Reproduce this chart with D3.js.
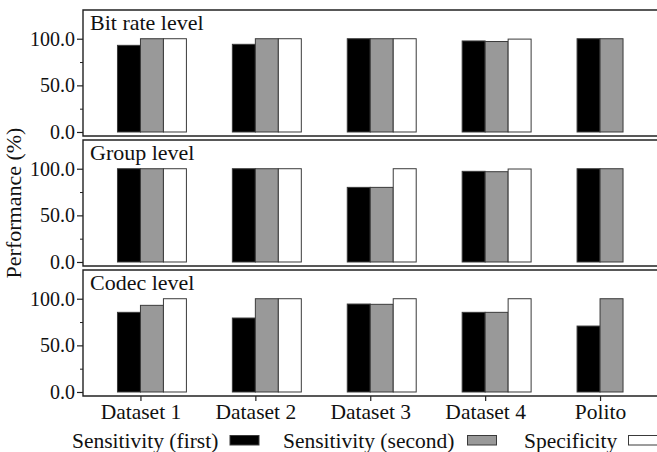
<!DOCTYPE html>
<html>
<head>
<meta charset="utf-8">
<script src="https://cdn.jsdelivr.net/npm/d3@7"></script>
<style>
  html, body { margin: 0; padding: 0; background: #fff; }
  svg { display: block; font-family: "Liberation Serif", "Times New Roman", serif; }
</style>
</head>
<body>
<svg id="chart" width="657" height="452"></svg>
<script>
// ---- data ----
const categories = ["Dataset 1", "Dataset 2", "Dataset 3", "Dataset 4", "Polito"];
const seriesNames = ["Sensitivity (first)", "Sensitivity (second)", "Specificity"];
const panelTitles = ["Bit rate level", "Group level", "Codec level"];

const bitrateSensFirst  = [92.9, 94.0, 100, 97.6, 100];
const bitrateSensSecond = [100, 100, 100, 97.0, 100];
const bitrateSpec       = [100, 100, 100, 99.6, null];

const groupSensFirst  = [100, 100, 80.0, 97.2, 100];
const groupSensSecond = [100, 100, 80.0, 96.8, 100];
const groupSpec       = [100, 100, 100, 99.7, null];

const codecSensFirst  = [85.4, 79.3, 94.3, 85.4, 70.7];
const codecSensSecond = [92.9, 100, 94.0, 85.4, 100];
const codecSpec       = [100, 100, 100, 100, null];

const yTickValues = [0, 50, 100];
const yMinorTicks = [25, 75];

// ---- layout ----
const svg = d3.select("#chart");
const left = 83, right = 657.5;
const panelTops = [10, 140, 270];
const panelH = 126;
const colors = ["#000000", "#999999", "#ffffff"];
const panels = [
  [bitrateSensFirst, bitrateSensSecond, bitrateSpec],
  [groupSensFirst, groupSensSecond, groupSpec],
  [codecSensFirst, codecSensSecond, codecSpec]
];
const barW = 0.2;
const offsets = [-0.2, 0, 0.2];

const x = d3.scaleLinear().domain([-0.5, categories.length - 0.5]).range([left, right]);

panels.forEach((series, p) => {
  const y0 = panelTops[p];
  const y = d3.scaleLinear().domain([-4.3, 130.8]).range([y0 + panelH, y0]);
  const g = svg.append("g");

  // bars
  series.forEach((vals, s) => {
    g.selectAll(null)
      .data(vals.map((v, i) => ({ v, i })).filter(d => d.v !== null))
      .join("rect")
      .attr("x", d => x(d.i + offsets[s]))
      .attr("width", d => x(d.i + offsets[s] + barW) - x(d.i + offsets[s]))
      .attr("y", d => y(d.v))
      .attr("height", d => y(0) - y(d.v))
      .attr("fill", colors[s])
      .attr("stroke", "#3a3a3a")
      .attr("stroke-width", 1);
  });

  // frame (left, top, bottom)
  g.append("path")
    .attr("d", `M${right},${y0}H${left}V${y0 + panelH}H${right}`)
    .attr("fill", "none")
    .attr("stroke", "#222")
    .attr("stroke-width", 1.4);

  // y axis
  const ya = d3.axisLeft(y).tickValues(yTickValues).tickSize(6).tickPadding(2)
    .tickFormat(d3.format(".1f"));
  const yg = g.append("g").attr("transform", `translate(${left},0)`).call(ya);
  yg.select(".domain").remove();
  yg.selectAll("line").attr("stroke", "#222").attr("stroke-width", 1.2);
  yg.selectAll("text").attr("font-size", 20).attr("font-family", "Liberation Serif").attr("fill", "#111");

  const ym = d3.axisLeft(y).tickValues(yMinorTicks).tickSize(3).tickFormat("");
  const ymg = g.append("g").attr("transform", `translate(${left},0)`).call(ym);
  ymg.select(".domain").remove();
  ymg.selectAll("line").attr("stroke", "#222").attr("stroke-width", 1);

  // title
  g.append("text")
    .attr("x", left + 7)
    .attr("y", y0 + 20)
    .attr("font-size", 22)
    .attr("fill", "#111")
    .text(panelTitles[p]);

  // x axis only for the bottom panel
  if (p === panels.length - 1) {
    const xa = d3.axisBottom(x).tickValues(d3.range(categories.length))
      .tickFormat(i => categories[i]).tickSize(5).tickPadding(3);
    const xg = g.append("g").attr("transform", `translate(0,${y0 + panelH})`).call(xa);
    xg.select(".domain").remove();
    xg.selectAll("line").attr("stroke", "#222").attr("stroke-width", 1.2);
    xg.selectAll("text").attr("font-size", 21.5).attr("font-family", "Liberation Serif").attr("fill", "#111");
  }
});

// y label
svg.append("text")
  .attr("transform", `translate(21,${(panelTops[0] + panelTops[2] + panelH) / 2}) rotate(-90)`)
  .attr("text-anchor", "middle")
  .attr("font-size", 22)
  .attr("fill", "#111")
  .text("Performance (%)");

// legend
const legendItems = [
  { name: seriesNames[0], tx: 72, sx: 230 },
  { name: seriesNames[1], tx: 283, sx: 467.5 },
  { name: seriesNames[2], tx: 524, sx: 628.5 }
];
const lg = svg.append("g");
legendItems.forEach((d, k) => {
  lg.append("text").attr("x", d.tx).attr("y", 448).attr("font-size", 21.5).attr("fill", "#111").text(d.name);
  lg.append("rect").attr("x", d.sx).attr("y", 435.5).attr("width", 29).attr("height", 9.5)
    .attr("fill", colors[k]).attr("stroke", "#3a3a3a").attr("stroke-width", 1);
});
</script>
</body>
</html>
